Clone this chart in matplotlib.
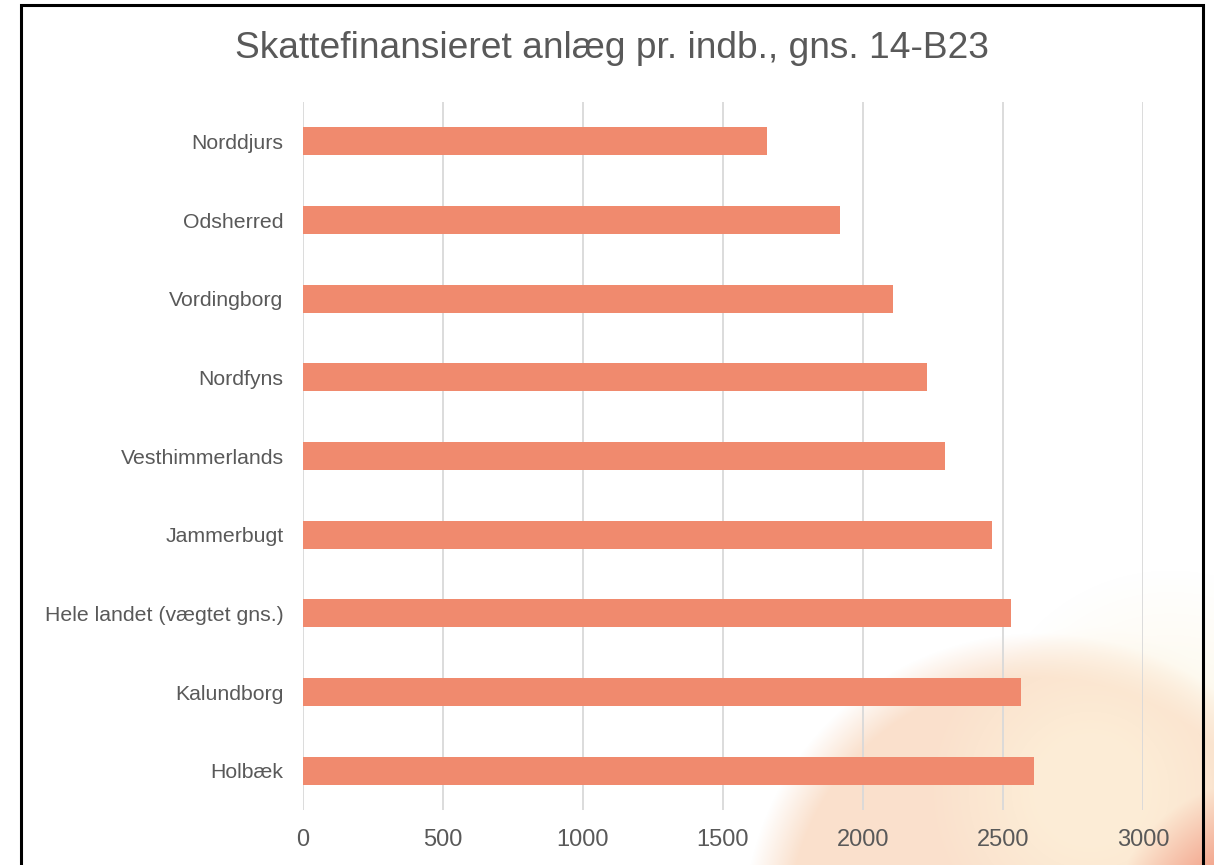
import numpy as np
import matplotlib.pyplot as plt
from matplotlib.patches import Rectangle

plt.rcParams['font.family'] = ['Liberation Sans', 'DejaVu Sans']

# Data (top to bottom as shown)
kommuner = ['Norddjurs', 'Odsherred', 'Vordingborg', 'Nordfyns', 'Vesthimmerlands',
            'Jammerbugt', 'Hele landet (vægtet gns.)', 'Kalundborg', 'Holbæk']
anlaeg = [1657, 1918, 2107, 2229, 2293, 2461, 2529, 2564, 2611]
xticks = [0, 500, 1000, 1500, 2000, 2500, 3000]

W, H = 1214, 865
fig = plt.figure(figsize=(W / 100, H / 100), dpi=100, facecolor='white')

# decorative background blob (bottom right)
yy, xx = np.mgrid[0:H, 0:W]
img = np.ones((H, W, 3))

def blob(cx, cy, r, soft, color, strength=1.0):
    d = np.sqrt((xx - cx) ** 2 + (yy - cy) ** 2)
    a = np.clip((r - d) / soft + 0.5, 0, 1) * strength
    c = np.array(color) / 255.0
    return a[..., None], c

for cx, cy, r, soft, col, s in [
    (1170, 760, 130, 120, (253, 248, 234), 0.8),
    (1040, 930, 275, 45, (250, 224, 204), 1.0),
    (1090, 790, 110, 110, (253, 239, 216), 0.85),
    (1260, 930, 110, 80, (242, 160, 135), 1.0),
]:
    a, c = blob(cx, cy, r, soft, col, s)
    img = img * (1 - a) + c * a

bg = fig.add_axes([0, 0, 1, 1])
bg.imshow(img, aspect='auto', extent=(0, 1, 0, 1), origin='upper')
bg.axis('off')
bg.set_zorder(0)

ax = fig.add_axes([303 / W, 1 - 810 / H, 840 / W, 708 / H])
ax.set_zorder(1)
ax.patch.set_alpha(0)

y = np.arange(len(kommuner))
ax.barh(y, anlaeg, height=0.356, color='#F08A6E', zorder=3)
ax.set_ylim(len(kommuner) - 0.5, -0.5)
ax.set_xlim(0, 3000)
ax.set_xticks(xticks)
ax.set_xticklabels([str(t) for t in xticks])
ax.set_yticks(y)
ax.set_yticklabels(kommuner)
ax.tick_params(axis='x', length=0, pad=14, labelsize=17, labelcolor='#595959')
ax.tick_params(axis='y', length=0, pad=14, labelsize=15.3, labelcolor='#595959')
ax.grid(axis='x', color='#D9D9D9', linewidth=1.3, zorder=0)
ax.grid(axis='y', visible=False)
for sp in ax.spines.values():
    sp.set_visible(False)

fig.text(612 / W, 1 - 48 / H, 'Skattefinansieret anlæg pr. indb., gns. 14-B23',
         ha='center', va='center', fontsize=26.7, color='#595959')

# black frame around chart
fig.add_artist(Rectangle((21 / W, -0.05), (1203 - 21) / W, 1.05 - 5 / H,
                         transform=fig.transFigure, fill=False,
                         edgecolor='black', linewidth=2.2, zorder=10))

fig.savefig('out.png', dpi=100)
